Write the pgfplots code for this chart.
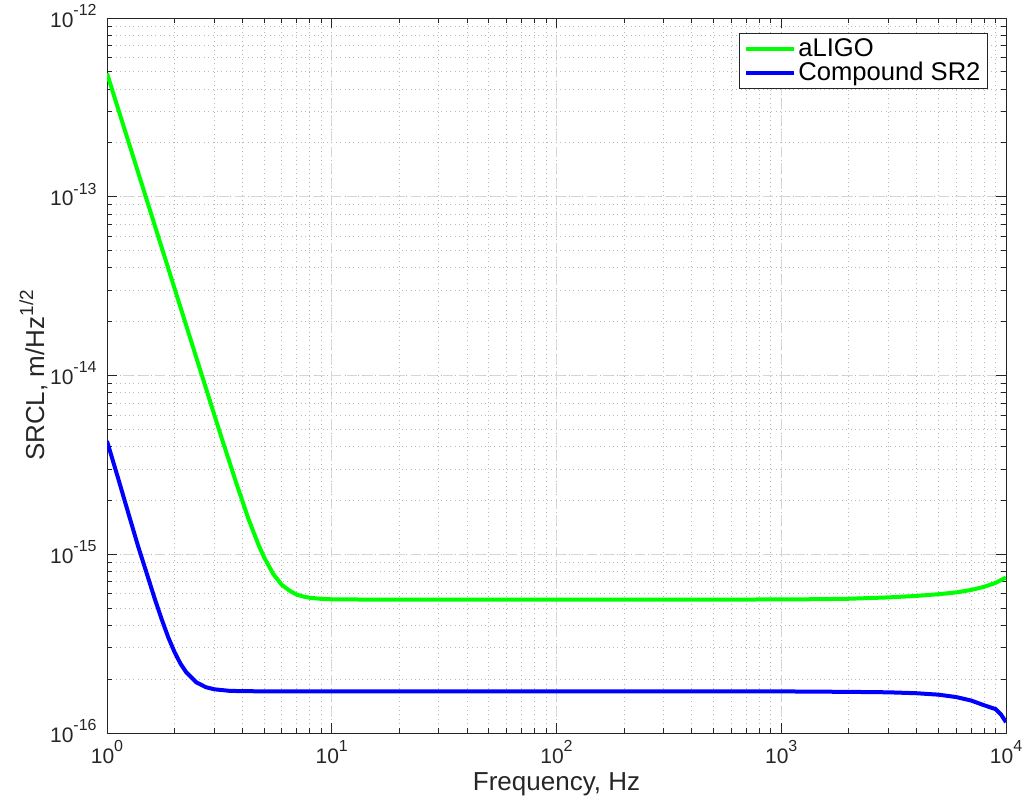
\documentclass[border=0pt]{standalone}
\usepackage{pgfplots}
\pgfplotsset{compat=1.18}
\usepackage{fontspec}
\setmainfont{Liberation Sans}
\definecolor{axgray}{rgb}{0.15,0.15,0.15}
\definecolor{mgreen}{rgb}{0,1,0}
\definecolor{mblue}{rgb}{0,0,1}
\newcommand{\tl}[1]{10\raisebox{5.8pt}{\fontsize{8}{9}\selectfont #1}}
\begin{document}
\begin{tikzpicture}
\useasboundingbox (-53.5pt,-35.5pt) rectangle (459.5pt,366.5pt);
\begin{axis}[
  at={(0,0)}, anchor=south west,
  scale only axis, width=449.5pt, height=357.5pt,
  xmode=log, ymode=log,
  xmin=1, xmax=10000, ymin=1e-16, ymax=1e-12,
  axis line style={axgray, line width=0.5pt},
  tick style={axgray, line width=0.5pt},
  tick align=inside,
  major tick length=5pt, minor tick length=2.5pt,
  xtick={1,10,100,1000,10000},
  xticklabels={\tl{0},\tl{1},\tl{2},\tl{3},\tl{4}},
  ytick={1e-16,1e-15,1e-14,1e-13,1e-12},
  yticklabels={\tl{-16},\tl{-15},\tl{-14},\tl{-13},\tl{-12}},
  xticklabel style={font=\fontsize{10.5}{12}\selectfont, text=axgray, anchor=base, inner sep=0pt, yshift=-15pt},
  yticklabel style={font=\fontsize{10.5}{12}\selectfont, text=axgray, anchor=base east, inner sep=0pt, xshift=-5pt, yshift=-4.5pt},
  grid=both,
  major grid style={black!16, line width=0.5pt, dash pattern=on 5pt off 3pt},
  minor grid style={black!28, line width=0.5pt, dash pattern=on 0.5pt off 1.7pt},
  xlabel={Frequency, Hz},
  ylabel={SRCL, m/Hz\raisebox{5.5pt}{\fontsize{9.5}{10}\selectfont 1/2}},
  xlabel style={font=\fontsize{13}{14}\selectfont, text=axgray, at={(axis description cs:0.5,0)}, anchor=base, inner sep=0pt, yshift=-28.5pt},
  ylabel style={font=\fontsize{13}{14}\selectfont, text=axgray, at={(axis description cs:-0.082,0.5)}, anchor=center, inner sep=0pt},
  legend style={at={(axis description cs:0.98,0.979)}, anchor=north east,
    draw=axgray, line width=0.5pt, fill=white,
    font=\fontsize{12.8}{13}\selectfont, inner xsep=2.5pt, inner ysep=1.5pt,
    row sep=-0.5pt,
    nodes={inner sep=1pt, text=black}},
  legend cell align=left,
  legend image code/.code={\draw[#1] (0pt,0pt) -- (24pt,0pt);},
]
\addplot[mgreen, line width=2pt] coordinates {
(1,4.9e-13) (1.25,2.007e-13) (1.5,9.68e-14) (1.75,5.22e-14) (2,3.06e-14)
(2.25,1.91e-14) (2.5,1.254e-14) (2.75,8.57e-15) (3,6.05e-15) (3.25,4.40e-15)
(3.5,3.31e-15) (3.75,2.53e-15) (4,1.993e-15) (4.25,1.59e-15) (4.5,1.319e-15)
(4.75,1.11e-15) (5,9.62e-16) (5.5,7.73e-16) (6,6.74e-16) (6.5,6.25e-16)
(7,5.94e-16) (7.5,5.80e-16) (8,5.71e-16) (9,5.63e-16) (10,5.60e-16)
(12,5.59e-16) (15,5.58e-16) (20,5.58e-16) (50,5.58e-16) (100,5.58e-16)
(200,5.58e-16) (500,5.58e-16) (1000,5.59e-16) (1500,5.61e-16) (2000,5.64e-16)
(3000,5.74e-16) (4000,5.85e-16) (5000,5.98e-16) (6000,6.12e-16) (7000,6.32e-16)
(8000,6.58e-16) (9000,6.93e-16) (10000,7.41e-16)
};
\addlegendentry{aLIGO}
\addplot[mblue, line width=2pt] coordinates {
(1,4.3e-15) (1.125,2.62e-15) (1.25,1.666e-15) (1.375,1.11e-15) (1.5,7.87e-16)
(1.625,5.72e-16) (1.75,4.34e-16) (1.875,3.42e-16) (2,2.83e-16) (2.125,2.44e-16)
(2.25,2.19e-16) (2.5,1.92e-16) (2.75,1.807e-16) (3,1.757e-16) (3.5,1.723e-16)
(4,1.715e-16) (5,1.712e-16) (7,1.71e-16) (10,1.71e-16) (20,1.71e-16)
(50,1.71e-16) (100,1.71e-16) (200,1.71e-16) (500,1.71e-16) (1000,1.71e-16)
(2000,1.70e-16) (3000,1.69e-16) (4000,1.67e-16) (5000,1.64e-16) (6000,1.59e-16)
(7000,1.52e-16) (8000,1.43e-16) (9000,1.36e-16) (9500,1.27e-16) (10000,1.15e-16)
};
\addlegendentry{Compound SR2}
\end{axis}
\end{tikzpicture}
\end{document}
